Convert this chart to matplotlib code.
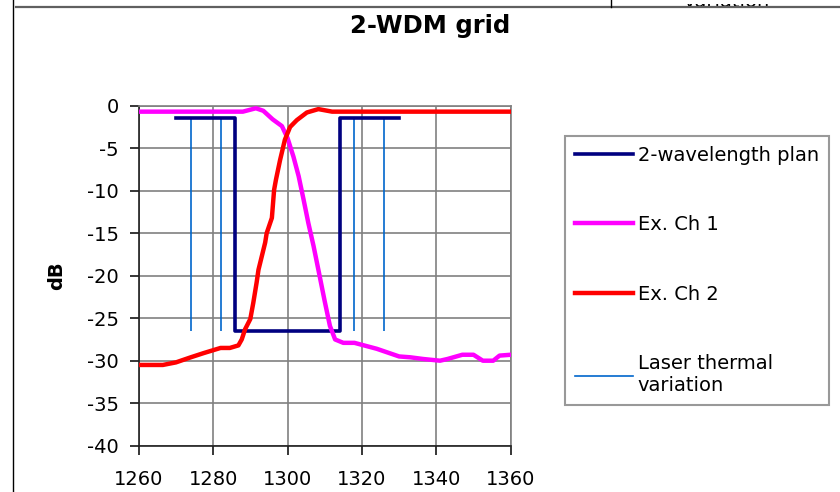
import matplotlib
matplotlib.use('agg')
import matplotlib.pyplot as plt
from matplotlib.lines import Line2D
from matplotlib.patches import Rectangle

plt.rcParams['axes.unicode_minus'] = False

# wavelength (nm) / attenuation (dB)
plan_x = [1270, 1286, 1286, 1314, 1314, 1330]
plan_y = [-1.4, -1.4, -26.5, -26.5, -1.4, -1.4]

ch1_x = [1260, 1288, 1291.5, 1293.5, 1296, 1298.5, 1300, 1301.6, 1303, 1304.3,
         1305.6, 1307, 1308.3, 1310, 1311.4, 1312.8, 1315, 1318, 1324, 1330,
         1333, 1336.5, 1341, 1343, 1347, 1350, 1352.5, 1355.3, 1357, 1360]
ch1_y = [-0.7, -0.7, -0.3, -0.6, -1.6, -2.4, -3.8, -6, -8.3, -11,
         -13.8, -16.5, -19.3, -23, -25.9, -27.5, -27.9, -27.9, -28.6, -29.5,
         -29.6, -29.8, -30.0, -29.8, -29.3, -29.3, -30, -30, -29.4, -29.3]

ch2_x = [1260, 1266.5, 1270, 1274, 1277.5, 1282, 1284.5, 1286.8, 1287.7, 1288.6,
         1290, 1290.8, 1291.7, 1292.2, 1294, 1294.4, 1295.8, 1296.4, 1296.9, 1298,
         1299.3, 1300.7, 1302.5, 1305.2, 1308.3, 1312, 1360]
ch2_y = [-30.5, -30.5, -30.2, -29.6, -29.1, -28.5, -28.5, -28.2, -27.5, -26.3,
         -25.1, -23.2, -20.8, -19.3, -16.1, -15, -13.2, -9.9, -8.7, -6.4,
         -4, -2.5, -1.7, -0.8, -0.4, -0.7, -0.7]

laser_x = [1274, 1282, 1318, 1326]
laser_top = -1.4
laser_bottom = -26.5

x_ticks = [1260, 1280, 1300, 1320, 1340, 1360]
y_ticks = [0, -5, -10, -15, -20, -25, -30, -35, -40]

fig = plt.figure(figsize=(8.4, 4.92), dpi=100)
ax = fig.add_axes([138.7 / 840, 1 - 445.7 / 492, 372 / 840, 340 / 492])

ax.plot(plan_x, plan_y, color='#000080', lw=2.6, zorder=3)
ax.plot(ch1_x, ch1_y, color='#FF00FF', lw=3.2, zorder=4)
ax.plot(ch2_x, ch2_y, color='#FF0000', lw=3.2, zorder=5)
ax.vlines(laser_x, laser_bottom, laser_top, color='#0066CC', lw=1.2, zorder=2)

ax.set_xlim(1260, 1360)
ax.set_ylim(-40, 0)
ax.set_xticks(x_ticks)
ax.set_yticks(y_ticks)
ax.grid(True, color='#808080', lw=1.2, zorder=0)
ax.set_axisbelow(True)
for s in ['top', 'right']:
    ax.spines[s].set_color('#808080')
    ax.spines[s].set_linewidth(1.2)
for s in ['left', 'bottom']:
    ax.spines[s].set_color('#202020')
    ax.spines[s].set_linewidth(1.2)
ax.tick_params(direction='out', length=6.3, width=1.1, labelsize=14)
ax.tick_params(axis='y', pad=8)
ax.tick_params(axis='x', pad=11)
ax.set_ylabel('dB', fontsize=14, fontweight='bold', labelpad=15)

fig.text(430 / 840, 1 - 26 / 492, '2-WDM grid', ha='center', va='center',
         fontsize=17.5, fontweight='bold')

handles = [Line2D([], [], color='#000080', lw=2.6),
           Line2D([], [], color='#FF00FF', lw=3.2),
           Line2D([], [], color='#FF0000', lw=3.2),
           Line2D([], [], color='#0066CC', lw=1.2)]
labels = ['2-wavelength plan', 'Ex. Ch 1', 'Ex. Ch 2', 'Laser thermal\nvariation']
leg = fig.legend(handles, labels, loc='upper left',
                 bbox_to_anchor=(565 / 840, 1 - 136 / 492), fontsize=14,
                 frameon=True, fancybox=False, edgecolor='#808080',
                 handlelength=3.0, handletextpad=0.25, labelspacing=2.6,
                 borderpad=0.5, borderaxespad=0)
leg.get_frame().set_linewidth(1.5)

# bits of the neighbouring page frame
fig.add_artist(Line2D([13.5 / 840, 13.5 / 840], [0, 1], color='black', lw=1))
fig.text(727 / 840, 1 - 7 / 492, 'variation', ha='center', va='baseline',
         fontsize=14)
fig.add_artist(Rectangle((640 / 840, 1 - 3.8 / 492), 200 / 840, 3.8 / 492,
                         transform=fig.transFigure, facecolor='white',
                         edgecolor='none', zorder=10))
fig.add_artist(Line2D([16 / 840, 1], [1 - 7.3 / 492, 1 - 7.3 / 492],
                      color='#606060', lw=1.6, zorder=11))
fig.add_artist(Line2D([610.5 / 840, 610.5 / 840], [1 - 7 / 492, 1],
                      color='black', lw=1, zorder=11))

fig.savefig('out.png', dpi=100)
